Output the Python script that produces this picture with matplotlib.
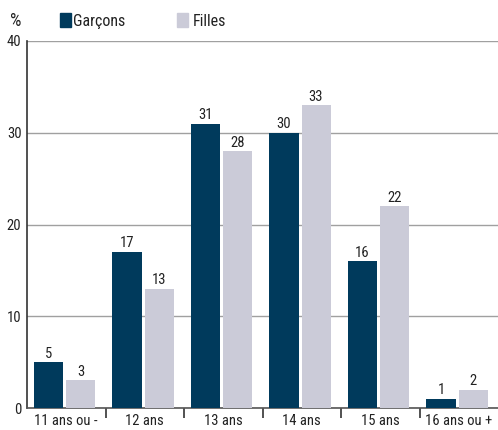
import numpy as np
import matplotlib.pyplot as plt
import matplotlib.patches as patches

plt.rcParams['font.family'] = ['Roboto Condensed', 'DejaVu Sans']

categories = ['11 ans ou -', '12 ans', '13 ans', '14 ans', '15 ans', '16 ans ou +']
garcons = [5, 17, 31, 30, 16, 1]
filles = [3, 13, 28, 33, 22, 2]

col_g = '#003a5c'
col_f = '#cbcbd8'
txt = '#222222'

fig = plt.figure(figsize=(4.98, 4.30), dpi=100)
ax = fig.add_axes([27 / 498, 22 / 430, 471 / 498, 367 / 430])

x = np.arange(len(categories))
w = 0.37
off_g = -0.226
off_f = 0.182

ax.bar(x + off_g, garcons, w, color=col_g, zorder=3)
ax.bar(x + off_f, filles, w, color=col_f, zorder=3)

for xi, v in zip(x, garcons):
    ax.annotate(str(v), (xi + off_g, v), xytext=(0, 3.3), textcoords='offset points',
                ha='center', va='baseline', fontsize=10.5, color=txt)
for xi, v in zip(x, filles):
    ax.annotate(str(v), (xi + off_f, v), xytext=(0, 3.3), textcoords='offset points',
                ha='center', va='baseline', fontsize=10.5, color=txt)

ax.set_xlim(-0.5, len(categories) - 0.5)
ax.set_ylim(0, 40)
ax.set_yticks([0, 10, 20, 30, 40])
ax.yaxis.grid(True, color='#a0a0a0', linewidth=1, zorder=0)
ax.tick_params(axis='y', length=0, pad=4, labelsize=10.5, labelcolor=txt)

ax.set_xticks(x)
ax.set_xticklabels(categories)
ax.tick_params(axis='x', which='major', length=0, pad=4, labelsize=10.5, labelcolor=txt)
ax.set_xticks(np.arange(0.5, len(categories) - 1, 1), minor=True)
ax.tick_params(axis='x', which='minor', length=7, width=1.2, color='#333333', direction='out')

for s in ['top', 'right']:
    ax.spines[s].set_visible(False)
ax.spines['left'].set_color('#333333')
ax.spines['bottom'].set_color('#555555')
ax.spines['left'].set_linewidth(1.2)
ax.spines['bottom'].set_linewidth(1.2)

# legend on top
fig.text(10 / 498, 1 - 26 / 430, '%', fontsize=13, va='baseline', color=txt)
fig.add_artist(patches.Rectangle((60 / 498, 1 - 26.5 / 430), 11 / 498, 13.5 / 430,
                                 transform=fig.transFigure, color=col_g))
fig.text(73 / 498, 1 - 26 / 430, 'Garçons', fontsize=11.5, va='baseline', color=txt)
fig.add_artist(patches.Rectangle((177 / 498, 1 - 26.5 / 430), 11 / 498, 13.5 / 430,
                                 transform=fig.transFigure, color=col_f))
fig.text(193 / 498, 1 - 26 / 430, 'Filles', fontsize=11.5, va='baseline', color=txt)

fig.savefig('out.png', dpi=100)
